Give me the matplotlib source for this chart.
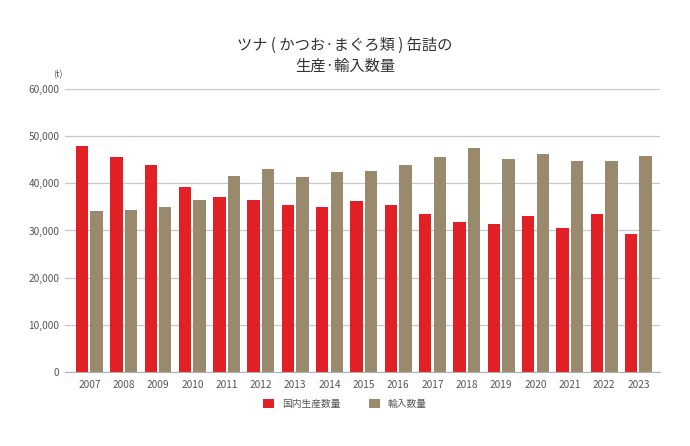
import matplotlib.pyplot as plt
import numpy as np

plt.rcParams['font.family'] = ['Noto Sans CJK JP', 'DejaVu Sans']

years = ['2007', '2008', '2009', '2010', '2011', '2012', '2013', '2014', '2015',
         '2016', '2017', '2018', '2019', '2020', '2021', '2022', '2023']
domestic = [47900, 45500, 43900, 39200, 37000, 36400, 35400, 35000, 36200,
            35400, 33500, 31900, 31400, 33000, 30500, 33600, 29200]
imports = [34100, 34300, 34900, 36400, 41600, 43000, 41400, 42300, 42700,
           43800, 45500, 47400, 45100, 46300, 44700, 44700, 45900]

red = '#e12125'
tan = '#9a8a6d'
grey = '#555555'

fig = plt.figure(figsize=(6.9, 4.46), dpi=100)
ax = fig.add_axes([65 / 690, 1 - 372 / 446, 595 / 690, 283 / 446])

x = np.arange(len(years))
w = 0.36
ax.bar(x - 0.212, domestic, w, color=red, label='国内生産数量')
ax.bar(x + 0.212, imports, w, color=tan, label='輸入数量')

ax.set_xlim(-0.71, 16.63)
ax.set_ylim(0, 60000)
ax.set_yticks(range(0, 60001, 10000))
ax.set_yticklabels([f'{v:,}' for v in range(0, 60001, 10000)])
ax.set_xticks(x)
ax.set_xticklabels(years)
ax.tick_params(length=0, labelsize=7.3, colors=grey, pad=6)
ax.tick_params(axis='y', pad=4)
ax.grid(axis='y', color='#c8c8c8', linewidth=0.9)
ax.set_axisbelow(True)
for s in ['top', 'right', 'left']:
    ax.spines[s].set_visible(False)
ax.spines['bottom'].set_color('#b0b0b0')

fig.text(58 / 690, 1 - 75 / 446, '(t)', fontsize=6.5, color=grey, ha='center', va='center')
fig.text(0.5, 1 - 45 / 446, 'ツナ ( かつお·まぐろ類 ) 缶詰の', fontsize=11,
         color='#333333', ha='center', va='center')
fig.text(0.5, 1 - 66 / 446, '生産·輸入数量', fontsize=11,
         color='#333333', ha='center', va='center')

fig.legend(loc='center', bbox_to_anchor=(345 / 690, 1 - 404 / 446), ncol=2,
           frameon=False, fontsize=7, handlelength=1.1, handleheight=1.1,
           columnspacing=3, labelcolor=grey)

fig.savefig('out.png', dpi=100)
